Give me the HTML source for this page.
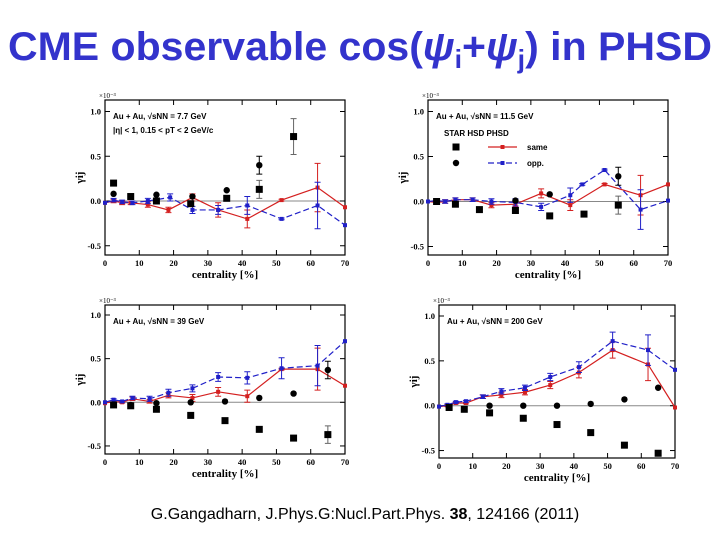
<!DOCTYPE html>
<html><head><meta charset="utf-8"><style>
html,body{margin:0;padding:0;background:#fff;}
svg{display:block;}
</style></head><body>
<svg id="root" width="720" height="540" viewBox="0 0 720 540" xmlns="http://www.w3.org/2000/svg">
<text x="8" y="60" textLength="704" lengthAdjust="spacingAndGlyphs" font-family="'Liberation Sans Narrow','Liberation Sans',sans-serif" font-weight="bold" font-size="40" fill="#3333cc">CME observable cos(<tspan font-style="italic">ψ</tspan><tspan font-size="26" dy="8">i</tspan><tspan dy="-8">+</tspan><tspan font-style="italic">ψ</tspan><tspan font-size="26" dy="8">j</tspan><tspan dy="-8">) in PHSD</tspan></text>
<text x="365" y="519" text-anchor="middle" font-family="'Liberation Sans',sans-serif" font-size="16" fill="#000">G.Gangadharn, J.Phys.G:Nucl.Part.Phys. <tspan font-weight="bold">38</tspan>, 124166 (2011)</text>
</svg>
<script>
// ---- data ----
const xTicks = [0,10,20,30,40,50,60,70];
const yTicks = [-0.5,0.0,0.5,1.0];
const yTickLabels = ["-0.5","0.0","0.5","1.0"];
const energies = ["7.7 GeV","11.5 GeV","39 GeV","200 GeV"];

const p1SameX=[0,2.5,5,7.5,12.5,18.5,25.5,33,41.5,51.5,62,70];
const p1SameY=[-0.02,0,-0.02,-0.02,-0.04,-0.1,0.04,-0.1,-0.2,0.01,0.15,-0.07];
const p1SameE=[0,0.02,0.02,0.02,0.03,0.03,0.04,0.08,0.1,0.01,0.27,0];
const p1OppX=[0,2.5,5,8,12.5,19,25.5,33,41.5,51.5,62,70];
const p1OppY=[-0.02,0.01,-0.01,-0.02,0,0.04,-0.1,-0.1,-0.05,-0.2,-0.05,-0.27];
const p1OppE=[0,0.02,0.02,0.02,0.03,0.04,0.04,0.05,0.1,0.01,0.26,0];
const p1SqX=[2.5,7.5,15,25,35.5,45,55];
const p1SqY=[0.2,0.05,0,-0.03,0.03,0.13,0.72];
const p1SqE=[0,0,0,0,0,0.1,0.2];
const p1CiX=[2.5,15,25.5,35.5,45];
const p1CiY=[0.08,0.07,0.05,0.12,0.4];
const p1CiE=[0,0,0,0,0.1];

const p2SameX=[0,2.5,5,8,13,18.5,25.5,33,41.5,51.5,62,70];
const p2SameY=[0,-0.01,0,0.02,0.02,-0.04,-0.03,0.09,-0.04,0.19,0.07,0.19];
const p2SameE=[0,0.02,0.02,0.02,0.02,0.03,0.03,0.05,0.06,0.01,0.22,0];
const p2OppX=[0,2.5,5,8,13,18.5,25.5,33,41.5,45,51.5,62,70];
const p2OppY=[0,0.01,0,0.02,0.02,0,-0.01,-0.06,0.07,0.19,0.35,-0.09,0.01];
const p2OppE=[0,0.02,0.02,0.02,0.02,0.03,0.04,0.04,0.08,0.01,0.01,0.22,0];
const p2SqX=[2.5,8,15,25.5,35.5,45.5,55.5];
const p2SqY=[0,-0.03,-0.09,-0.1,-0.16,-0.14,-0.04];
const p2SqE=[0,0,0,0,0,0,0.1];
const p2CiX=[25.5,35.5,55.5];
const p2CiY=[0.01,0.08,0.28];
const p2CiE=[0,0,0.1];

const p3SameX=[0,2.5,5,8,13,18.5,25.5,33,41.5,51.5,62,70];
const p3SameY=[-0.01,0.01,0,0.04,0.01,0.08,0.05,0.12,0.07,0.38,0.38,0.19];
const p3SameE=[0,0.01,0.01,0.02,0.02,0.03,0.04,0.05,0.07,0.01,0.24,0];
const p3OppX=[0,2.5,5,8,13,18.5,25.5,33,41.5,51.5,62,70];
const p3OppY=[0,0.03,0.01,0.05,0.04,0.11,0.16,0.29,0.28,0.39,0.42,0.7];
const p3OppE=[0,0.01,0.01,0.02,0.03,0.04,0.04,0.05,0.07,0.12,0.23,0];
const p3SqX=[2.5,7.5,15,25,35,45,55,65];
const p3SqY=[-0.03,-0.04,-0.08,-0.15,-0.21,-0.31,-0.41,-0.37];
const p3SqE=[0,0,0,0,0,0,0,0.1];
const p3CiX=[7.5,15,25,35,45,55,65];
const p3CiY=[-0.03,-0.01,0,0.01,0.05,0.1,0.37];
const p3CiE=[0,0,0,0,0,0,0.1];

const p4SameX=[0,2.5,5,8,13,18.5,25.5,33,41.5,51.5,62,70];
const p4SameY=[-0.01,0,0.03,0.03,0.1,0.12,0.15,0.23,0.37,0.62,0.46,-0.02];
const p4SameE=[0,0.01,0.01,0.01,0.02,0.03,0.03,0.04,0.06,0.09,0.18,0];
const p4OppX=[0,2.5,5,8,13,18.5,25.5,33,41.5,51.5,62,70];
const p4OppY=[-0.01,0.01,0.04,0.05,0.1,0.16,0.2,0.32,0.43,0.72,0.62,0.4];
const p4OppE=[0,0.01,0.01,0.01,0.02,0.03,0.03,0.04,0.06,0.1,0.17,0];
const p4SqX=[3,7.5,15,25,35,45,55,65];
const p4SqY=[-0.02,-0.04,-0.08,-0.14,-0.21,-0.3,-0.44,-0.53];
const p4SqE=[0,0,0,0,0,0,0,0];
const p4CiX=[15,25,35,45,55,65];
const p4CiY=[0,0,0,0.02,0.07,0.2];
const p4CiE=[0,0,0,0,0,0];

const panels=[
 {L:105,R:345,top:100,bot:255,y1:111.5,y0:201,e:0,sx:p1SameX,sy:p1SameY,se:p1SameE,ox:p1OppX,oy:p1OppY,oe:p1OppE,qx:p1SqX,qy:p1SqY,qe:p1SqE,cx:p1CiX,cy:p1CiY,ce:p1CiE},
 {L:428,R:668,top:100,bot:255,y1:111.5,y0:201.5,e:1,sx:p2SameX,sy:p2SameY,se:p2SameE,ox:p2OppX,oy:p2OppY,oe:p2OppE,qx:p2SqX,qy:p2SqY,qe:p2SqE,cx:p2CiX,cy:p2CiY,ce:p2CiE},
 {L:105,R:345,top:305,bot:454,y1:315,y0:402.3,e:2,sx:p3SameX,sy:p3SameY,se:p3SameE,ox:p3OppX,oy:p3OppY,oe:p3OppE,qx:p3SqX,qy:p3SqY,qe:p3SqE,cx:p3CiX,cy:p3CiY,ce:p3CiE},
 {L:439,R:675,top:305,bot:458,y1:316,y0:405.7,e:3,sx:p4SameX,sy:p4SameY,se:p4SameE,ox:p4OppX,oy:p4OppY,oe:p4OppE,qx:p4SqX,qy:p4SqY,qe:p4SqE,cx:p4CiX,cy:p4CiY,ce:p4CiE}
];
const NS="http://www.w3.org/2000/svg";
const root=document.getElementById('root');
function mk(tag,attrs,parent){const el=document.createElementNS(NS,tag);for(const k in attrs)el.setAttribute(k,attrs[k]);parent.appendChild(el);return el;}
const serif="'Liberation Serif',serif";
panels.forEach((p,i)=>{
  const g=mk('g',{},root);
  
  
  const xs=v=>p.L+(p.R-p.L)*v/70;
  const ys=v=>p.y0-(p.y0-p.y1)*v;
  const frame=mk('rect',{x:p.L,y:p.top,width:p.R-p.L,height:p.bot-p.top,fill:'none',stroke:'#000','stroke-width':1.2},g);
  
  
  const zl=mk('line',{x1:p.L,x2:p.R,y1:ys(0),y2:ys(0),stroke:'#888','stroke-width':1},g);
  
  
  xTicks.forEach(t=>{
    mk('line',{x1:xs(t),x2:xs(t),y1:p.bot,y2:p.bot-5,stroke:'#000'},g);
    mk('line',{x1:xs(t),x2:xs(t),y1:p.top,y2:p.top+5,stroke:'#000'},g);
    const tl=mk('text',{x:xs(t),y:p.bot+11,'text-anchor':'middle','font-family':serif,'font-weight':'bold','font-size':8.5},g);
    tl.textContent=t;
    
    
  });
  yTicks.forEach((t,k)=>{
    mk('line',{x1:p.L,x2:p.L+5,y1:ys(t),y2:ys(t),stroke:'#000'},g);
    mk('line',{x1:p.R,x2:p.R-5,y1:ys(t),y2:ys(t),stroke:'#000'},g);
    const tl=mk('text',{x:p.L-4,y:ys(t)+3,'text-anchor':'end','font-family':serif,'font-weight':'bold','font-size':8.5},g);
    tl.textContent=yTickLabels[k];
    
    
  });
  const ex=mk('text',{x:p.L-6,y:p.top-2,'font-family':serif,'font-size':7},g);
  ex.textContent='×10⁻³';
  
  
  const xl=mk('text',{x:(p.L+p.R)/2,y:p.bot+23,'text-anchor':'middle','font-family':serif,'font-weight':'bold','font-size':11},g);
  xl.textContent='centrality [%]';
  
  
  const yl=mk('text',{x:0,y:0,transform:`translate(${p.L-22},${(p.top+p.bot)/2}) rotate(-90)`,'text-anchor':'middle','font-family':serif,'font-weight':'bold','font-size':11},g);
  yl.textContent='γij';
  
  
  const an=mk('text',{x:p.L+8,y:p.top+19,'font-family':"'Liberation Sans',sans-serif",'font-weight':'bold','font-size':8},g);
  an.textContent='Au + Au, √sNN = '+energies[p.e];
  
  
  if(i===0){
    const a2=mk('text',{x:p.L+8,y:p.top+33,'font-family':"'Liberation Sans',sans-serif",'font-weight':'bold','font-size':8},g);
    a2.textContent='|η| < 1,  0.15 < pT < 2 GeV/c';
    
    
  }
  function series(X,Y,E,color,dash,name){
    const pts=X.map((x,k)=>xs(x)+','+ys(Y[k])).join(' ');
    const pl=mk('polyline',{points:pts,fill:'none',stroke:color,'stroke-width':1.2,'stroke-dasharray':dash},g);
    
    
    X.forEach((x,k)=>{
      if(E[k]>0){const eb=mk('path',{d:`M${xs(x)},${ys(Y[k]+E[k])}V${ys(Y[k]-E[k])}M${xs(x)-3},${ys(Y[k]+E[k])}h6M${xs(x)-3},${ys(Y[k]-E[k])}h6`,stroke:color,'stroke-width':1,fill:'none'},g);
        
        }
      const m=mk('rect',{x:xs(x)-2,y:ys(Y[k])-2,width:4,height:4,fill:color},g);
      
      
    });
  }
  series(p.sx,p.sy,p.se,'#d42020','','same-charge');
  series(p.ox,p.oy,p.oe,'#2020c8','6,3','opposite-charge');
  p.qx.forEach((x,k)=>{
    if(p.qe[k]>0){const eb=mk('path',{d:`M${xs(x)},${ys(p.qy[k]+p.qe[k])}V${ys(p.qy[k]-p.qe[k])}M${xs(x)-3},${ys(p.qy[k]+p.qe[k])}h6M${xs(x)-3},${ys(p.qy[k]-p.qe[k])}h6`,stroke:'#666','stroke-width':1,fill:'none'},g);
      
      }
    const m=mk('rect',{x:xs(x)-3.5,y:ys(p.qy[k])-3.5,width:7,height:7,fill:'#000'},g);
    
    
  });
  p.cx.forEach((x,k)=>{
    if(p.ce[k]>0){const eb=mk('path',{d:`M${xs(x)},${ys(p.cy[k]+p.ce[k])}V${ys(p.cy[k]-p.ce[k])}M${xs(x)-3},${ys(p.cy[k]+p.ce[k])}h6M${xs(x)-3},${ys(p.cy[k]-p.ce[k])}h6`,stroke:'#000','stroke-width':1,fill:'none'},g);
      
      }
    const m=mk('circle',{cx:xs(x),cy:ys(p.cy[k]),r:3.2,fill:'#000'},g);
    
    
  });
  if(i===1){
    const lg=mk('g',{},g);
    
    
    const hd=mk('text',{x:p.L+16,y:p.top+36,'font-family':"'Liberation Sans',sans-serif",'font-weight':'bold','font-size':8},lg);
    hd.textContent='STAR    HSD    PHSD';
    
    
    mk('rect',{x:452.5,y:143.5,width:7,height:7,fill:'#000'},lg);
    mk('circle',{cx:456,cy:163,r:3.2,fill:'#000'},lg);
    mk('line',{x1:488,x2:517,y1:147,y2:147,stroke:'#d42020','stroke-width':1.2},lg);
    mk('rect',{x:500.5,y:145,width:4,height:4,fill:'#d42020'},lg);
    mk('line',{x1:488,x2:517,y1:163,y2:163,stroke:'#2020c8','stroke-width':1.2,'stroke-dasharray':'6,3'},lg);
    mk('rect',{x:500.5,y:161,width:4,height:4,fill:'#2020c8'},lg);
    const t1=mk('text',{x:527,y:150,'font-family':"'Liberation Sans',sans-serif",'font-weight':'bold','font-size':8},lg);
    t1.textContent='same';
    
    
    const t2=mk('text',{x:527,y:166,'font-family':"'Liberation Sans',sans-serif",'font-weight':'bold','font-size':8},lg);
    t2.textContent='opp.';
    
    
  }
});
</script>
</body></html>
